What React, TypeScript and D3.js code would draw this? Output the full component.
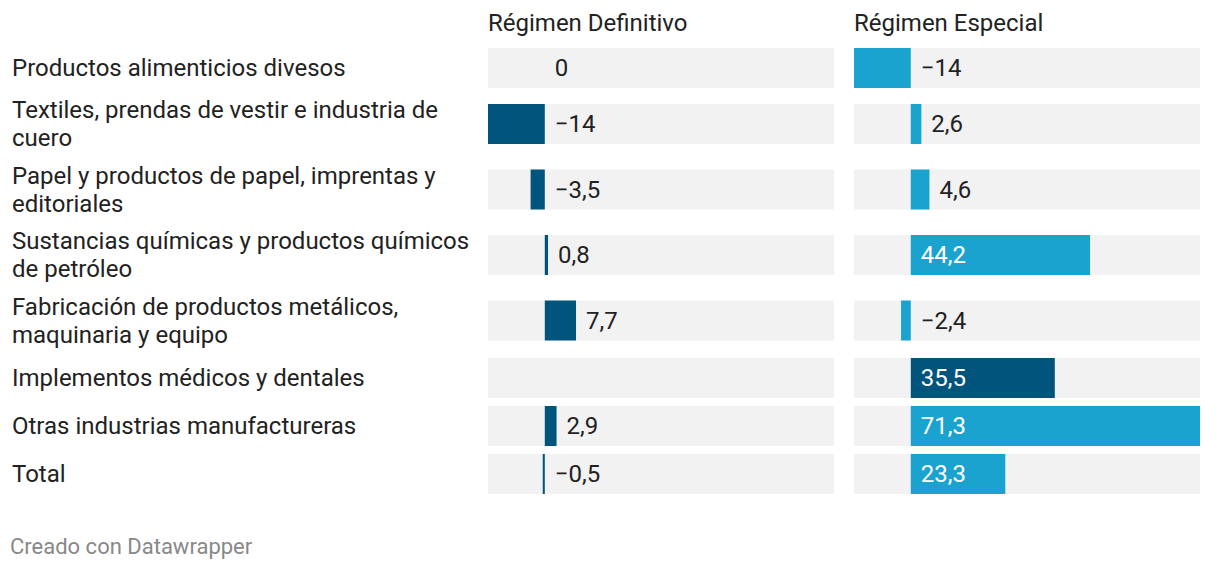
import React, { useEffect, useRef } from "react";
import * as d3 from "d3";

const categories: string[][] = [
  ["Productos alimenticios divesos"],
  ["Textiles, prendas de vestir e industria de", "cuero"],
  ["Papel y productos de papel, imprentas y", "editoriales"],
  ["Sustancias químicas y productos químicos", "de petróleo"],
  ["Fabricación de productos metálicos,", "maquinaria y equipo"],
  ["Implementos médicos y dentales"],
  ["Otras industrias manufactureras"],
  ["Total"],
];
const seriesNames = ["Régimen Definitivo", "Régimen Especial"];
const definitivo: (number | null)[] = [0, -14, -3.5, 0.8, 7.7, null, 2.9, -0.5];
const especial: (number | null)[] = [-14, 2.6, 4.6, 44.2, -2.4, 35.5, 71.3, 23.3];
const highlighted = ["Implementos médicos y dentales"];
const footer = "Creado con Datawrapper";

const W = 1220;
const H = 572;
const FONT = "Roboto, 'Noto Sans', sans-serif";
const FS = 24;
const DARK = "#01547c";
const LIGHT = "#1aa3cf";
const BG = "#f2f2f2";
const TEXT = "#222";

export default function App() {
  const ref = useRef<SVGSVGElement>(null);
  useEffect(() => {
    const svg = d3.select(ref.current);
    svg.selectAll("*").remove();

    const panels = [
      { name: seriesNames[0], values: definitivo, x0: 488, x1: 834 },
      { name: seriesNames[1], values: especial, x0: 854, x1: 1200 },
    ];
    const all = [...definitivo, ...especial].filter((v) => v != null) as number[];
    const dom: [number, number] = [Math.min(0, d3.min(all)!), Math.max(0, d3.max(all)!)];

    // row layout
    const barH = 40;
    const centers: number[] = [];
    let c = 68;
    categories.forEach((lines, i) => {
      if (i > 0) {
        const prev = categories[i - 1].length > 1 ? 33.5 : 24;
        const cur = lines.length > 1 ? 32 : 24;
        c += prev + cur;
      }
      centers.push(c);
    });

    // labels
    const lab = svg.append("g").attr("font-family", FONT).attr("font-size", FS).attr("fill", TEXT);
    categories.forEach((lines, i) => {
      const n = lines.length;
      lines.forEach((ln, j) => {
        lab
          .append("text")
          .attr("x", 12)
          .attr("y", centers[i] + (j - (n - 1) / 2) * 28)
          .attr("dy", "0.35em")
          .text(ln);
      });
    });

    panels.forEach((p, pi) => {
      const x = d3.scaleLinear().domain(dom).range([p.x0, p.x1]);
      const g = svg.append("g");
      g.append("text")
        .attr("x", p.x0)
        .attr("y", 23)
        .attr("dy", "0.35em")
        .attr("font-family", FONT)
        .attr("font-size", FS)
        .attr("fill", TEXT)
        .text(p.name);
      p.values.forEach((v, i) => {
        const cy = centers[i];
        g.append("rect")
          .attr("x", p.x0)
          .attr("width", p.x1 - p.x0)
          .attr("y", cy - barH / 2)
          .attr("height", barH)
          .attr("fill", BG);
        if (v == null) return;
        const isHi = pi === 1 && highlighted.includes(categories[i].join(" "));
        const color = pi === 0 || isHi ? DARK : LIGHT;
        const xa = x(Math.min(0, v));
        const xb = x(Math.max(0, v));
        if (v !== 0) {
          g.append("rect")
            .attr("x", xa)
            .attr("width", Math.max(2, xb - xa))
            .attr("y", cy - barH / 2)
            .attr("height", barH)
            .attr("fill", color);
        }
        const label = d3.format(".1f")(v).replace(".", ",").replace(",0", "").replace("-", "−");
        const inside = v > 15;
        g.append("text")
          .attr("x", (inside ? x(0) : xb) + 10)
          .attr("y", cy)
          .attr("dy", "0.35em")
          .attr("font-family", FONT)
          .attr("font-size", FS)
          .attr("fill", inside ? "#fff" : TEXT)
          .text(label);
      });
    });

    svg
      .append("text")
      .attr("x", 10)
      .attr("y", 546)
      .attr("dy", "0.35em")
      .attr("font-family", FONT)
      .attr("font-size", 22)
      .attr("fill", "#888")
      .text(footer);
  }, []);
  return (
    <svg
      ref={ref}
      width={W}
      height={H}
      style={{ position: "absolute", left: 0, top: 0, background: "#fff" }}
    />
  );
}
